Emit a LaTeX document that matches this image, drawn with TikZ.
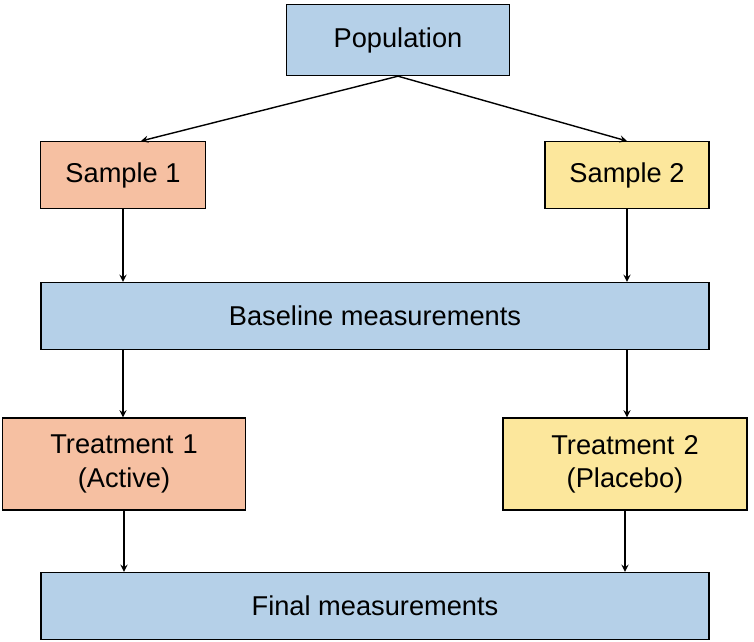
\documentclass[tikz,border=0pt]{standalone}
\usepackage{fontspec}
\setmainfont{Liberation Sans}
\usetikzlibrary{positioning}
\definecolor{popblue}{HTML}{B5D0E8}
\definecolor{actorange}{HTML}{F6C0A2}
\definecolor{plcyellow}{HTML}{FCE79C}

\begin{document}
\begin{tikzpicture}[
	x=0.02cm, y=-0.02cm,
	box/.style = {
		draw, thick,
		text centered,
		inner sep=0pt,
		font=\fontsize{15.5}{19}\selectfont,
	},
	wide/.style = {box, fill=popblue, minimum width=13.36cm, minimum height=1.34cm},
	every edge/.style = {draw, thick, -stealth},
]
\useasboundingbox (0,0) rectangle (754,642);

% Top of the tree
\node [box, fill=popblue, minimum width=4.46cm, minimum height=1.42cm] (pop) at (398,40) {Population};
\node [box, fill=actorange, minimum width=3.3cm, minimum height=1.34cm] (s1) at (123,175) {Sample 1};
\node [box, fill=plcyellow, minimum width=3.28cm, minimum height=1.34cm] (s2) at (627,175) {Sample 2};

% Measurements
\node [wide] (base) at (375,316) {Baseline measurements};
\node [box, fill=actorange, minimum width=4.86cm, minimum height=1.84cm, text width=4.6cm, align=center] (t1) at (124,464) {Treatment 1\\(Active)};
\node [box, fill=plcyellow, minimum width=4.88cm, minimum height=1.84cm, text width=4.6cm, align=center] (t2) at (625,464) {Treatment 2\\(Placebo)};
\node [wide] (fin) at (375,606) {Final measurements};

% Connections
\coordinate (s1top) at (141,141);
\coordinate (s2top) at (627,141);
\path (pop.south) edge (s1top)
      (pop.south) edge (s2top);
\path (s1.south) edge (s1.south |- base.north)
      (s2.south) edge (s2.south |- base.north)
      (s1.south |- base.south) edge (s1.south |- t1.north)
      (s2.south |- base.south) edge (s2.south |- t2.north)
      (t1.south) edge (t1.south |- fin.north)
      (t2.south) edge (t2.south |- fin.north);

\end{tikzpicture}
\end{document}
